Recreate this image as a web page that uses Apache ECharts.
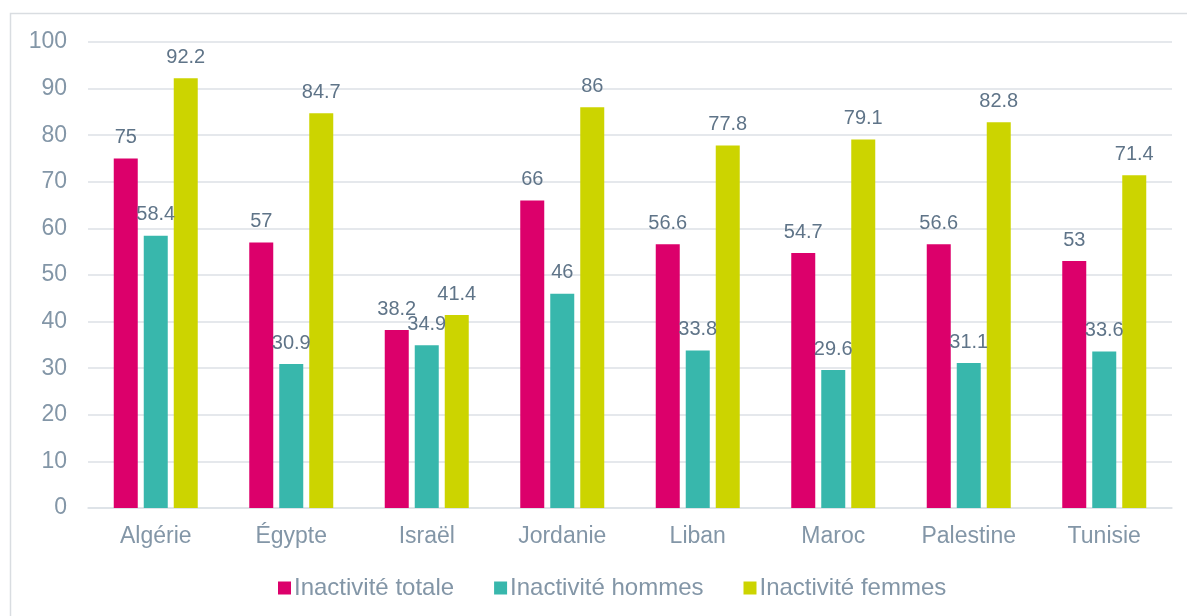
<!DOCTYPE html>
<html>
<head>
<meta charset="utf-8">
<script src="https://cdn.jsdelivr.net/npm/echarts@6/dist/echarts.min.js"></script>
<style>
  html, body { margin: 0; padding: 0; background: #fff; }
  #chart { width: 1187px; height: 616px; }
</style>
</head>
<body>
<div id="chart"></div>
<script>
const categories = ['Algérie', 'Égypte', 'Israël', 'Jordanie', 'Liban', 'Maroc', 'Palestine', 'Tunisie'];
const seriesNames = ['Inactivité totale', 'Inactivité hommes', 'Inactivité femmes'];
const totale  = [75, 57, 38.2, 66, 56.6, 54.7, 56.6, 53];
const hommes  = [58.4, 30.9, 34.9, 46, 33.8, 29.6, 31.1, 33.6];
const femmes  = [92.2, 84.7, 41.4, 86, 77.8, 79.1, 82.8, 71.4];
const colors = ['#DC006B', '#38B7AC', '#CCD400'];

const font = '"Liberation Sans", Arial, sans-serif';
const labelColor = '#5F7488';
const axisColor = '#8396A7';

function barSeries(name, data, color) {
  return {
    name: name,
    type: 'bar',
    data: data,
    barWidth: 24,
    barGap: '25%',
    itemStyle: { color: color },
    label: {
      show: true,
      position: 'top',
      distance: 11,
      color: labelColor,
      fontFamily: font,
      fontSize: 20
    }
  };
}

const chart = echarts.init(document.getElementById('chart'), null, { renderer: 'canvas' });
chart.setOption({
  animation: false,
  color: colors,
  grid: { left: 88, right: 15, top: 42, bottom: 108 },
  graphic: [{
    type: 'rect',
    shape: { x: 10.5, y: 13.5, width: 1200, height: 640 },
    style: { fill: 'none', stroke: '#D9DDE1', lineWidth: 1.5 },
    silent: true,
    z: -1
  }],
  legend: {
    data: seriesNames,
    bottom: 11,
    left: 273,
    icon: 'rect',
    itemWidth: 13,
    itemHeight: 13,
    itemGap: 40,
    textStyle: { color: axisColor, fontFamily: font, fontSize: 24, padding: [0, 0, 0, -2] }
  },
  xAxis: {
    type: 'category',
    data: categories,
    axisLine: { lineStyle: { color: '#DCE1E6', width: 1.5 } },
    axisTick: { show: false },
    axisLabel: { color: axisColor, fontFamily: font, fontSize: 23, margin: 17 }
  },
  yAxis: {
    type: 'value',
    min: 0,
    max: 100,
    interval: 10,
    axisLine: { show: false },
    axisTick: { show: false },
    splitLine: { lineStyle: { color: '#DCE1E6', width: 1.5 } },
    axisLabel: { color: axisColor, fontFamily: font, fontSize: 23, margin: 21 }
  },
  series: [
    barSeries(seriesNames[0], totale, colors[0]),
    barSeries(seriesNames[1], hommes, colors[1]),
    barSeries(seriesNames[2], femmes, colors[2])
  ]
});
</script>
</body>
</html>
